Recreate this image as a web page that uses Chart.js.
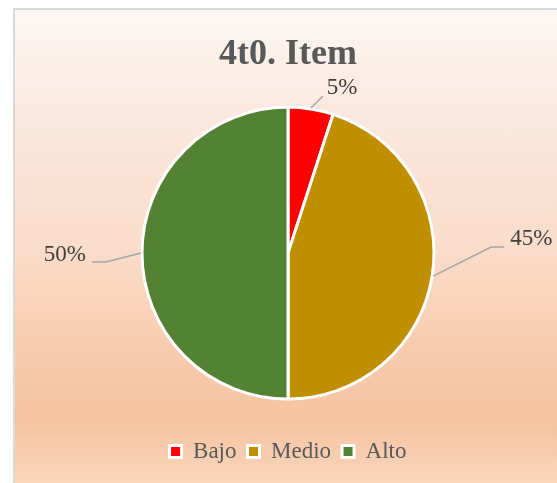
<!DOCTYPE html>
<html>
<head>
<meta charset="utf-8">
<script src="https://cdn.jsdelivr.net/npm/chart.js@4/dist/chart.umd.min.js"></script>
<style>
  html, body { margin: 0; padding: 0; background: #fff; overflow: hidden; }
  #frame {
    position: absolute; left: 13px; top: 8px; width: 620px; height: 520px;
    border: 2px solid #d9d9d9;
    background: linear-gradient(to bottom, #fdf7f3 0px, #fbe9df 100px, #fadcc9 240px, #f7cdb1 330px, #f5c3a0 410px, #f9d6bd 476px);
  }
  #wrap { position: absolute; left: 0; top: 0; width: 557px; height: 483px; }
</style>
</head>
<body>
<div id="frame"></div>
<div id="wrap"><canvas id="pie"></canvas></div>
<script>
  const categories = ['Bajo', 'Medio', 'Alto'];
  const percents = [5, 45, 50];
  const sliceColors = ['#ff0000', '#bf8f00', '#548235'];

  // leader line geometry for each label, relative to the slice's outer edge
  const leaders = [
    { elbow: [12, -12], end: [12, -12], text: [19, -8], align: 'center' },
    { elbow: [58, -29], end: [71, -29], text: [6, -8], align: 'left' },
    { elbow: [-35, 9], end: [-49, 9], text: [-6, -7], align: 'right' }
  ];

  const leaderLabels = {
    id: 'leaderLabels',
    afterDatasetsDraw(chart) {
      const ctx = chart.ctx;
      const meta = chart.getDatasetMeta(0);
      ctx.save();
      meta.data.forEach((arc, i) => {
        const p = arc.getProps(['x', 'y', 'startAngle', 'endAngle', 'outerRadius'], true);
        const mid = (p.startAngle + p.endAngle) / 2;
        const r = p.outerRadius + 1;
        const ex = p.x + Math.cos(mid) * r, ey = p.y + Math.sin(mid) * r;
        const L = leaders[i];
        ctx.strokeStyle = '#a6a6a6';
        ctx.lineWidth = 1.5;
        ctx.beginPath();
        ctx.moveTo(ex, ey);
        ctx.lineTo(ex + L.elbow[0], ey + L.elbow[1]);
        ctx.lineTo(ex + L.end[0], ey + L.end[1]);
        ctx.stroke();
        ctx.fillStyle = '#404040';
        ctx.font = '23px "Liberation Serif"';
        ctx.textAlign = L.align;
        ctx.textBaseline = 'middle';
        ctx.fillText(percents[i] + '%', ex + L.end[0] + L.text[0], ey + L.end[1] + L.text[1]);
      });
      ctx.restore();
    }
  };

  new Chart(document.getElementById('pie'), {
    type: 'pie',
    data: {
      labels: categories,
      datasets: [{
        data: percents,
        backgroundColor: sliceColors,
        borderColor: '#ffffff',
        borderWidth: 3,
        radius: 146
      }]
    },
    options: {
      responsive: true,
      maintainAspectRatio: false,
      animation: false,
      layout: { padding: { left: 19, right: 0, top: 0, bottom: 10 } },
      plugins: {
        tooltip: { enabled: false },
        title: {
          display: true,
          text: '4t0. Item',
          color: '#595959',
          font: { family: 'Liberation Serif', size: 36, weight: 'bold' },
          padding: { top: 33, bottom: 1 }
        },
        legend: {
          position: 'bottom',
          labels: {
            color: '#595959',
            font: { family: 'Liberation Serif', size: 23 },
            boxWidth: 12,
            boxHeight: 12,
            padding: 11
          }
        }
      }
    },
    plugins: [leaderLabels]
  });
</script>
</body>
</html>
